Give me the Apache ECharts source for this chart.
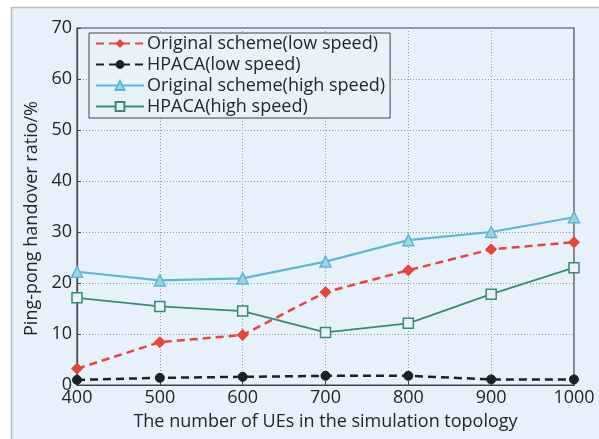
<!DOCTYPE html>
<html><head><meta charset="utf-8">
<script src="https://cdn.jsdelivr.net/npm/echarts@6/dist/echarts.min.js"></script>
<style>html,body{margin:0;padding:0;background:#fff}#c{width:599px;height:439px}</style>
</head><body><div id="c"></div>
<script>
const xValues = [400, 500, 600, 700, 800, 900, 1000];
const origLow = [3.2, 8.4, 9.8, 18.2, 22.5, 26.6, 28.0];
const hpacaLow = [1.0, 1.4, 1.6, 1.8, 1.8, 1.1, 1.1];
const origHigh = [22.2, 20.5, 20.9, 24.2, 28.4, 30.0, 32.9];
const hpacaHigh = [17.1, 15.4, 14.5, 10.3, 12.1, 17.8, 23.0];
const seriesNames = ['Original scheme(low speed)', 'HPACA(low speed)', 'Original scheme(high speed)', 'HPACA(high speed)'];
const xTicks = {min: 400, max: 1000, interval: 100};
const yTicks = {min: 0, max: 70, interval: 10};

const pair = arr => xValues.map((x, i) => [x, arr[i]]);
const chart = echarts.init(document.getElementById('c'), null, {renderer: 'canvas'});
const font = '"Open Sans", "Noto Sans", sans-serif';
const txt = '#262626';
chart.setOption({
  animation: false,
  backgroundColor: '#fff',
  graphic: [{
    type: 'rect', z: -10, silent: true,
    shape: {x: 11.5, y: 7.5, width: 600, height: 440},
    style: {fill: '#e6f1fb', stroke: '#b8bcc0', lineWidth: 1.5}
  }],
  grid: {left: 77, right: 25, top: 28, bottom: 54, show: true, borderColor: '#444', borderWidth: 1.2, backgroundColor: 'transparent'},
  legend: {
    orient: 'vertical', left: 89, top: 33,
    data: seriesNames,
    itemWidth: 48, itemHeight: 11, itemGap: 0,
    padding: [0, 5, 1, 6],
    borderColor: '#444', borderWidth: 1, backgroundColor: '#e8f2fb',
    textStyle: {fontFamily: font, fontSize: 18, color: txt, padding: [0, 0, 0, -2], lineHeight: 21}
  },
  xAxis: {
    type: 'value', min: xTicks.min, max: xTicks.max, interval: xTicks.interval,
    name: 'The number of UEs in the simulation topology',
    nameLocation: 'middle', nameGap: 28,
    nameTextStyle: {fontFamily: font, fontSize: 18, color: txt},
    axisLine: {show: true, lineStyle: {color: '#444', width: 1.2}},
    axisTick: {show: true, inside: true, length: 4, lineStyle: {color: '#444'}},
    axisLabel: {fontFamily: font, fontSize: 18, color: txt, margin: 4, formatter: v => String(v)},
    splitLine: {show: true, lineStyle: {color: '#999', type: [1, 2], width: 1}}
  },
  yAxis: {
    type: 'value', min: yTicks.min, max: yTicks.max, interval: yTicks.interval,
    name: 'Ping-pong handover ratio/%',
    nameLocation: 'middle', nameGap: 34,
    nameTextStyle: {fontFamily: font, fontSize: 18, color: txt, padding: [0, 24, 0, 0]},
    axisLine: {show: true, lineStyle: {color: '#444', width: 1.2}},
    axisTick: {show: true, inside: true, length: 4, lineStyle: {color: '#444'}},
    axisLabel: {fontFamily: font, fontSize: 18, color: txt, margin: 5},
    splitLine: {show: true, lineStyle: {color: '#999', type: [1, 2], width: 1}}
  },
  series: [
    {name: seriesNames[0], type: 'line', data: pair(origLow), symbol: 'diamond', symbolSize: 11,
     lineStyle: {color: '#e8443a', width: 2.5, type: [8, 5]}, itemStyle: {color: '#e8443a', borderColor: '#e8443a'}, z: 4},
    {name: seriesNames[1], type: 'line', data: pair(hpacaLow), symbol: 'circle', symbolSize: 9,
     lineStyle: {color: '#1e2124', width: 2.5, type: [8, 5]}, itemStyle: {color: '#1e2124', borderColor: '#1e2124'}, z: 4},
    {name: seriesNames[2], type: 'line', data: pair(origHigh), symbol: 'triangle', symbolSize: 11,
     lineStyle: {color: '#5cb6d6', width: 2.2}, itemStyle: {color: '#9fd3e8', borderColor: '#5cb6d6', borderWidth: 1.5}, z: 3},
    {name: seriesNames[3], type: 'line', data: pair(hpacaHigh), symbol: 'rect', symbolSize: 10,
     lineStyle: {color: '#3d8a70', width: 1.8}, itemStyle: {color: '#e6f1fb', borderColor: '#3d8a70', borderWidth: 1.5}, z: 3}
  ]
});
</script></body></html>
